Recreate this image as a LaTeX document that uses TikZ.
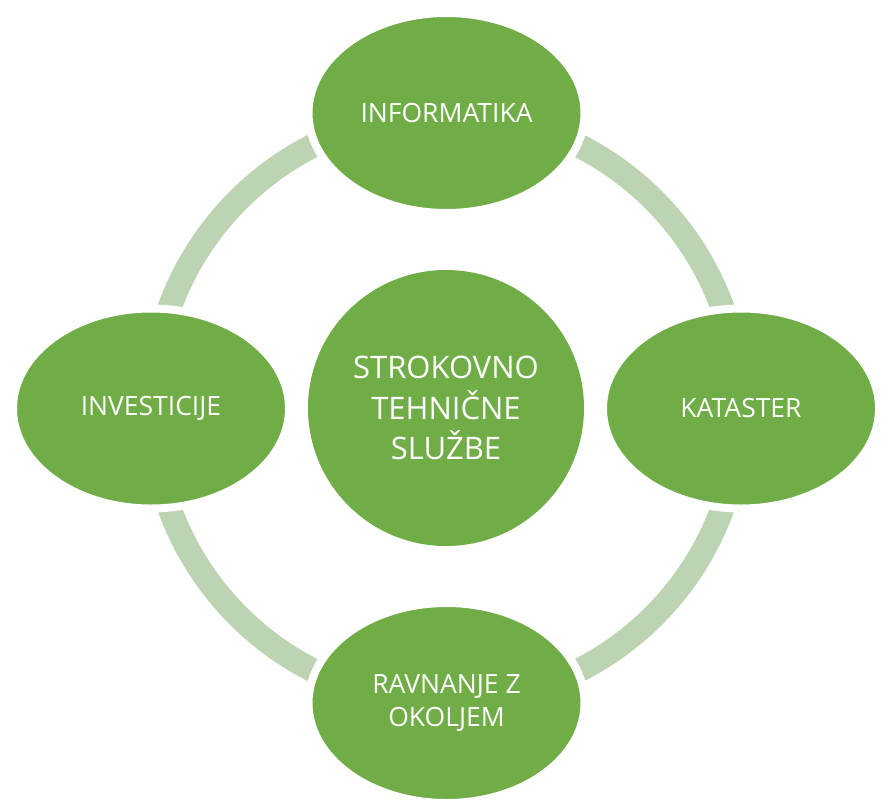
\documentclass[tikz,border=0pt]{standalone}
\usepackage{fontspec}
\setmainfont{Open Sans}
\usetikzlibrary{shapes.geometric,backgrounds}
\definecolor{nodegreen}{RGB}{112,173,71}
\definecolor{ringgreen}{RGB}{188,212,178}
\tikzset{
  satellite/.style={ellipse, fill=nodegreen, draw=white, line width=8pt,
    minimum width=276pt, minimum height=200pt, inner sep=0pt,
    text=white, align=center, font=\fontsize{26.5}{32.5}\selectfont},
  hub/.style={circle, fill=nodegreen, minimum size=276pt, inner sep=0pt,
    text=white, align=center, font=\fontsize{31}{40.5}\selectfont},
  ringline/.style={draw=ringgreen, line width=24pt}
}
\begin{document}
\begin{tikzpicture}[x=1pt,y=-1pt]
\useasboundingbox (0,0) rectangle (896,806);
\node[hub] (hub) at (446,408) {STROKOVNO\\TEHNIČNE\\SLUŽBE};
\node[satellite] (top) at (446.5,113) {INFORMATIKA};
\node[satellite] (right) at (741,408.5) {KATASTER};
\node[satellite] (bottom) at (446.5,703) {RAVNANJE Z\\OKOLJEM};
\node[satellite] (left) at (151,408.5) {INVESTICIJE};
\begin{scope}[on background layer]
  \draw[ringline] (hub.center) circle[radius=294pt];
\end{scope}
\end{tikzpicture}
\end{document}
